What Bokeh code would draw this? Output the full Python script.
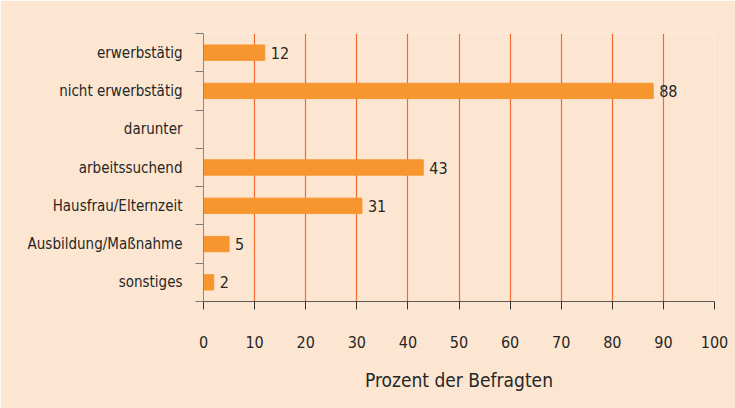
from bokeh.plotting import figure
from bokeh.models import Range1d, FixedTicker, ColumnDataSource, LabelSet
from bokeh.core.properties import value
from bokeh.embed import file_html
from bokeh.resources import INLINE

categories = ["erwerbstätig", "nicht erwerbstätig", "darunter", "arbeitssuchend",
              "Hausfrau/Elternzeit", "Ausbildung/Maßnahme", "sonstiges"]
values = [12, 88, None, 43, 31, 5, 2]
x_ticks = [0, 10, 20, 30, 40, 50, 60, 70, 80, 90, 100]
x_label = "Prozent der Befragten"

FONT = "DejaVu Sans Condensed"
BG = "#fde6d1"
BAR = "#f7962f"
GRID = "#f26b2c"
TXT = "#262626"

n = len(categories)
ypos = [n - i - 0.5 for i in range(n)]
bx, by, bl = [], [], []
for v, y in zip(values, ypos):
    if v is not None:
        bx.append(v)
        by.append(y)
        bl.append(str(v))
src = ColumnDataSource(dict(x=bx, y=by, label=bl))

p = figure(width=735, height=408, x_range=Range1d(0, 100), y_range=Range1d(0, n),
           output_backend="svg", toolbar_location=None,
           min_border_left=203, min_border_right=21, min_border_top=33, min_border_bottom=107)
p.background_fill_color = BG
p.border_fill_color = BG
p.outline_line_color = None

p.hbar(y="y", right="x", left=0, height=0.4, color=BAR, source=src)
p.add_layout(LabelSet(x="x", y="y", text="label", source=src, x_offset=6,
                      text_baseline="middle", text_font=value(FONT), text_font_size=value("16px"),
                      text_color=TXT))

# x axis
p.xaxis.ticker = FixedTicker(ticks=x_ticks)
p.xaxis.axis_label = x_label
p.xaxis.axis_label_text_font = FONT
p.xaxis.axis_label_text_font_size = "19px"
p.xaxis.axis_label_text_font_style = "normal"
p.xaxis.axis_label_text_color = TXT
p.xaxis.axis_label_standoff = 18
p.xaxis.major_label_text_font = FONT
p.xaxis.major_label_text_font_size = "16px"
p.xaxis.major_label_text_color = TXT
p.xaxis.major_label_standoff = 26
p.xaxis.major_tick_in = 0
p.xaxis.major_tick_out = 8
p.xaxis.major_tick_line_color = "#333333"
p.xaxis.minor_tick_line_color = None
p.xaxis.axis_line_color = "#5a5a5a"

# y axis
p.yaxis.ticker = FixedTicker(ticks=ypos, minor_ticks=list(range(n + 1)))
p.yaxis.major_label_overrides = {y: c for y, c in zip(ypos, categories)}
p.yaxis.major_label_text_font = FONT
p.yaxis.major_label_text_font_size = "15px"
p.yaxis.major_label_text_color = TXT
p.yaxis.major_label_standoff = 13
p.yaxis.major_tick_in = 0
p.yaxis.major_tick_out = 0
p.yaxis.minor_tick_in = 0
p.yaxis.minor_tick_out = 8
p.yaxis.minor_tick_line_color = "#7a7a7a"
p.yaxis.axis_line_color = "#8a8a8a"

# grid
p.ygrid.visible = False
p.xgrid.ticker = FixedTicker(ticks=x_ticks[1:])
p.xgrid.grid_line_color = GRID
p.xgrid.grid_line_width = 1.2

open("out.html", "w").write(file_html(p, INLINE))
